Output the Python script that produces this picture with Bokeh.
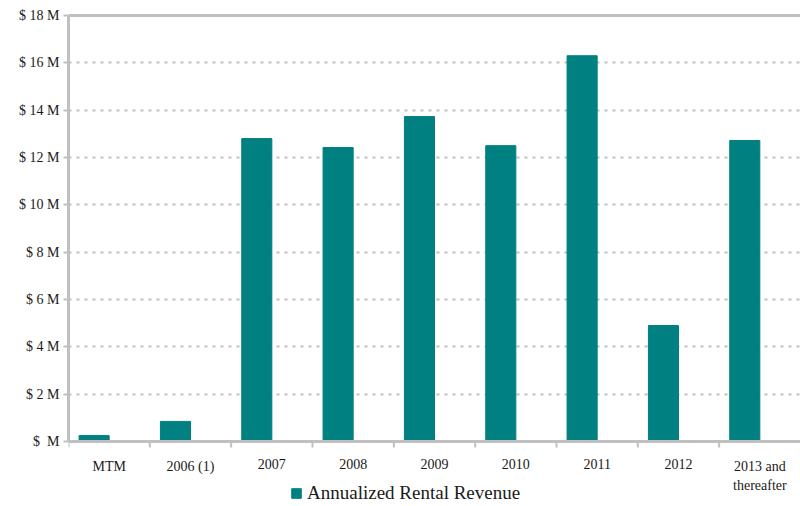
from bokeh.plotting import figure
from bokeh.models import ColumnDataSource, FixedTicker, Legend, LegendItem, Range1d, Span
from bokeh.core.properties import value
from bokeh.embed import file_html
from bokeh.resources import INLINE

categories = ["MTM", "2006 (1)", "2007", "2008", "2009", "2010", "2011", "2012", "2013 and\nthereafter"]
revenue_m = [0.25, 0.85, 12.8, 12.42, 13.73, 12.5, 16.3, 4.9, 12.72]
series_name = "Annualized Rental Revenue"
y_ticks = [0, 2, 4, 6, 8, 10, 12, 14, 16, 18]
y_labels = ["$\u00a0\u00a0M"] + ["$ %d M" % t for t in y_ticks[1:]]

FONT = "Liberation Serif"
GRAY = "#c0c0c0"
TEAL = "#008080"
TXT = "#1a1a1a"
BAR_W = 0.37

W, H = 800, 506
LEFT, TOP = 68, 13
PLOT_H = 426                      # pixels from 0 to 18 M
PX = PLOT_H / 18.0
Y_END = 18 + 2 / PX
Y_START = Y_END - (H - TOP) / PX  # frame extends below the axis to hold labels + legend

n = len(categories)
xs = [i + 0.5 - BAR_W / 2 for i in range(n)]
centers = [i + 0.5 for i in range(n)]
src = ColumnDataSource(dict(x=xs, top=revenue_m))
lab = ColumnDataSource(dict(x=centers, y=[0] * n, text=categories))

p = figure(width=W, height=H, output_backend="svg", toolbar_location=None,
           x_range=Range1d(0, n), y_range=Range1d(Y_START, Y_END),
           min_border_left=LEFT, min_border_right=0, min_border_top=TOP, min_border_bottom=0)
p.outline_line_color = None
p.background_fill_color = "white"
p.border_fill_color = "white"
p.xaxis.visible = False

r = p.vbar(x="x", top="top", width=BAR_W, bottom=0, source=src, color=TEAL)

# y axis
p.yaxis.ticker = FixedTicker(ticks=y_ticks)
p.yaxis.bounds = (0, 18)
p.yaxis.major_label_overrides = {t: l for t, l in zip(y_ticks, y_labels)}
p.yaxis.minor_tick_line_color = None
p.yaxis.axis_line_color = GRAY
p.yaxis.axis_line_width = 3
p.yaxis.major_tick_line_color = GRAY
p.yaxis.major_tick_line_width = 2
p.yaxis.major_tick_out = 5
p.yaxis.major_tick_in = 0
p.yaxis.major_label_text_font = FONT
p.yaxis.major_label_text_font_size = "14px"
p.yaxis.major_label_text_color = TXT
p.yaxis.major_label_standoff = 4

p.xgrid.grid_line_color = None
p.ygrid.ticker = FixedTicker(ticks=y_ticks[1:-1])
p.ygrid.grid_line_color = GRAY
p.ygrid.grid_line_width = 2
p.ygrid.grid_line_dash = "3 5"

# x axis line, top border, boundary ticks and category labels
p.add_layout(Span(location=0, dimension="width", line_color=GRAY, line_width=3))
p.add_layout(Span(location=18, dimension="width", line_color=GRAY, line_width=3))
bounds = list(range(n))
p.segment(x0=bounds, y0=[0] * n, x1=bounds, y1=[-6 / PX] * n, line_color=GRAY, line_width=2)
p.text(x="x", y="y", text="text", source=lab, text_align="center", text_baseline="top",
       y_offset=17, text_font=value(FONT), text_font_size="14px", text_color=TXT,
       text_line_height=1.3)

legend = Legend(items=[LegendItem(label=series_name, renderers=[r])],
                orientation="horizontal", location=(222, 2),
                label_text_font=FONT, label_text_font_size="19px",
                label_text_color=TXT, glyph_width=12, glyph_height=12,
                border_line_color=None, background_fill_alpha=0,
                padding=0, margin=0, spacing=4, label_standoff=5)
p.add_layout(legend, "center")

open("out.html", "w").write(file_html(p, INLINE))
